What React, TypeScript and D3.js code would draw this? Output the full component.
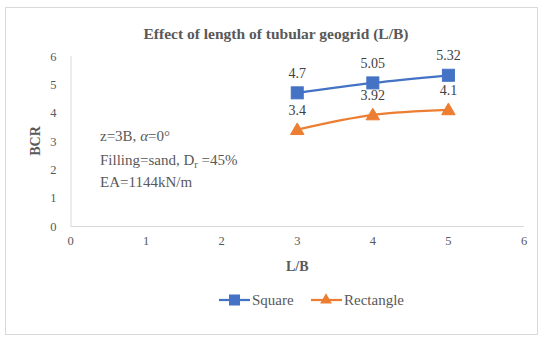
import React, { useRef, useEffect } from 'react';
import * as d3 from 'd3';

const lbValues = [3, 4, 5];
const squareBCR = [4.7, 5.05, 5.32];
const rectangleBCR = [3.4, 3.92, 4.1];
const seriesNames = ['Square', 'Rectangle'];
const xTicks = [0, 1, 2, 3, 4, 5, 6];
const yTicks = [0, 1, 2, 3, 4, 5, 6];

const BLUE = '#4472c4';
const ORANGE = '#ed7d31';
const FONT = '"Liberation Serif", serif';

const App: React.FC = () => {
  const svgRef = useRef<SVGSVGElement>(null);

  useEffect(() => {
    if (!svgRef.current) return;
    const width = 550;
    const height = 337;

    const svg = d3.select(svgRef.current)
      .attr('width', width)
      .attr('height', height)
      .style('position', 'absolute')
      .style('left', 0)
      .style('top', 0)
      .attr('font-family', FONT);
    svg.selectAll('*').remove();

    svg.append('rect')
      .attr('x', 0).attr('y', 0).attr('width', width).attr('height', height)
      .attr('fill', '#fff');
    // chart border
    svg.append('rect')
      .attr('x', 5.5).attr('y', 7.5).attr('width', 532).attr('height', 327)
      .attr('fill', '#fff').attr('stroke', '#d9d9d9').attr('stroke-width', 1);

    const x = d3.scaleLinear().domain([0, 6]).range([70.5, 524]);
    const y = d3.scaleLinear().domain([0, 6]).range([226, 56]);

    // title
    svg.append('text')
      .attr('x', 276).attr('y', 39)
      .attr('text-anchor', 'middle')
      .attr('font-size', 15.5).attr('font-weight', 'bold')
      .attr('fill', '#595959')
      .text('Effect of length of tubular geogrid (L/B)');

    // axes lines
    svg.append('line')
      .attr('x1', x(0)).attr('x2', x(6)).attr('y1', y(0) + 0.5).attr('y2', y(0) + 0.5)
      .attr('stroke', '#d9d9d9');
    svg.append('line')
      .attr('x1', x(0) + 0.5).attr('x2', x(0) + 0.5).attr('y1', y(6)).attr('y2', y(0))
      .attr('stroke', '#d9d9d9');

    svg.append('g').selectAll('text')
      .data(yTicks).join('text')
      .attr('x', x(0) - 14).attr('y', d => y(d) + 4.5)
      .attr('text-anchor', 'end')
      .attr('font-size', 12.5).attr('fill', '#595959')
      .text(d => d);

    svg.append('g').selectAll('text')
      .data(xTicks).join('text')
      .attr('x', d => x(d)).attr('y', y(0) + 19)
      .attr('text-anchor', 'middle')
      .attr('font-size', 12.5).attr('fill', '#595959')
      .text(d => d);

    // axis titles
    svg.append('text')
      .attr('transform', `translate(40,${(y(0) + y(6)) / 2}) rotate(-90)`)
      .attr('text-anchor', 'middle')
      .attr('font-size', 14).attr('font-weight', 'bold').attr('fill', '#595959')
      .text('BCR');
    svg.append('text')
      .attr('x', x(3)).attr('y', 271)
      .attr('text-anchor', 'middle')
      .attr('font-size', 14).attr('font-weight', 'bold').attr('fill', '#595959')
      .text('L/B');

    // annotation
    const note = svg.append('text')
      .attr('font-size', 15).attr('fill', '#595959');
    const l1 = note.append('tspan').attr('x', 100).attr('y', 141);
    l1.append('tspan').text('z=3B, ');
    l1.append('tspan').attr('font-style', 'italic').text('α');
    l1.append('tspan').text('=0°');
    const l2 = note.append('tspan').attr('x', 100).attr('y', 165);
    l2.append('tspan').text('Filling=sand, D');
    l2.append('tspan').attr('font-size', 10.5).attr('dy', 3).text('r');
    l2.append('tspan').attr('dy', -3).text(' =45%');
    note.append('tspan').attr('x', 100).attr('y', 187).text('EA=1144kN/m');

    const line = d3.line<number>()
      .x((_, i) => x(lbValues[i]))
      .y(d => y(d))
      .curve(d3.curveMonotoneX);

    const tri = d3.symbol().type(d3.symbolTriangle).size(78);

    // square series
    svg.append('path')
      .datum(squareBCR)
      .attr('d', line)
      .attr('fill', 'none').attr('stroke', BLUE).attr('stroke-width', 2.25);
    svg.append('g').selectAll('rect')
      .data(squareBCR).join('rect')
      .attr('x', (_, i) => x(lbValues[i]) - 6)
      .attr('y', d => y(d) - 6)
      .attr('width', 12).attr('height', 12)
      .attr('fill', BLUE).attr('stroke', BLUE);

    // rectangle series
    svg.append('path')
      .datum(rectangleBCR)
      .attr('d', line)
      .attr('fill', 'none').attr('stroke', ORANGE).attr('stroke-width', 2.25);
    svg.append('g').selectAll('path')
      .data(rectangleBCR).join('path')
      .attr('d', tri)
      .attr('transform', (d, i) => `translate(${x(lbValues[i])},${y(d) + 1})`)
      .attr('fill', ORANGE).attr('stroke', ORANGE);

    // data labels
    const labelled = [squareBCR, rectangleBCR];
    labelled.forEach(vals => {
      svg.append('g').selectAll('text')
        .data(vals).join('text')
        .attr('x', (_, i) => x(lbValues[i]))
        .attr('y', d => y(d) - 15)
        .attr('text-anchor', 'middle')
        .attr('font-size', 14).attr('fill', '#404040')
        .text(d => d);
    });

    // legend
    const lg = svg.append('g').attr('font-size', 15).attr('fill', '#595959');
    const items = [
      { name: seriesNames[0], color: BLUE, x0: 219 },
      { name: seriesNames[1], color: ORANGE, x0: 311 },
    ];
    items.forEach((it, k) => {
      lg.append('line')
        .attr('x1', it.x0).attr('x2', it.x0 + 31).attr('y1', 300).attr('y2', 300)
        .attr('stroke', it.color).attr('stroke-width', 2.25);
      if (k === 0) {
        lg.append('rect')
          .attr('x', it.x0 + 10).attr('y', 294.5).attr('width', 11).attr('height', 11)
          .attr('fill', it.color);
      } else {
        lg.append('path')
          .attr('d', d3.symbol().type(d3.symbolTriangle).size(60)())
          .attr('transform', `translate(${it.x0 + 15},300)`)
          .attr('fill', it.color);
      }
      lg.append('text')
        .attr('x', it.x0 + 33).attr('y', 305)
        .text(it.name);
    });
  }, []);

  return <svg ref={svgRef}></svg>;
};

export default App;
